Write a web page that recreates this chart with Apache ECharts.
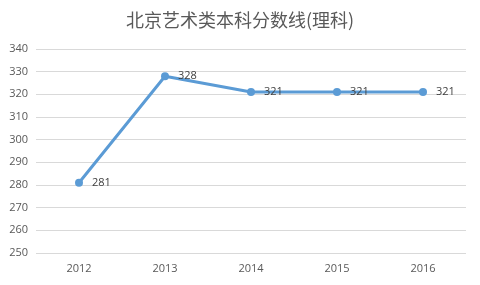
<!DOCTYPE html>
<html><head><meta charset="utf-8">
<script src="https://cdn.jsdelivr.net/npm/echarts@6/dist/echarts.min.js"></script>
<style>html,body{margin:0;padding:0;background:#fff}#c{width:480px;height:285px}</style>
</head><body><div id="c"></div>
<script>
var titleText = '北京艺术类本科分数线(理科)';
var categories = ['2012', '2013', '2014', '2015', '2016'];
var scores = [281, 328, 321, 321, 321];
var yMin = 250, yMax = 340, yStep = 10;

var chart = echarts.init(document.getElementById('c'));
chart.setOption({
  animation: false,
  backgroundColor: '#fff',
  title: {
    text: titleText, left: 'center', top: 6,
    textStyle: { fontFamily: 'Noto Sans CJK SC', fontSize: 18, fontWeight: 'normal', color: '#595959' }
  },
  grid: { left: 36, right: 14, top: 49, bottom: 32 },
  xAxis: {
    type: 'category', data: categories, boundaryGap: true,
    axisLine: { show: false }, axisTick: { show: false },
    axisLabel: { color: '#595959', fontSize: 11, fontFamily: 'Open Sans', margin: 10 }
  },
  yAxis: {
    type: 'value', min: yMin, max: yMax, interval: yStep,
    axisLine: { show: false }, axisTick: { show: false },
    axisLabel: { color: '#595959', fontSize: 11, fontFamily: 'Open Sans', margin: 8 },
    splitLine: { lineStyle: { color: '#d9d9d9', width: 1 } }
  },
  series: [{
    type: 'line', data: scores,
    symbol: 'circle', symbolSize: 8,
    lineStyle: { color: '#5B9BD5', width: 3 },
    itemStyle: { color: '#5B9BD5' },
    label: { show: true, position: 'right', distance: 9, color: '#404040', fontSize: 11, fontFamily: 'Open Sans' }
  }]
});
</script></body></html>
